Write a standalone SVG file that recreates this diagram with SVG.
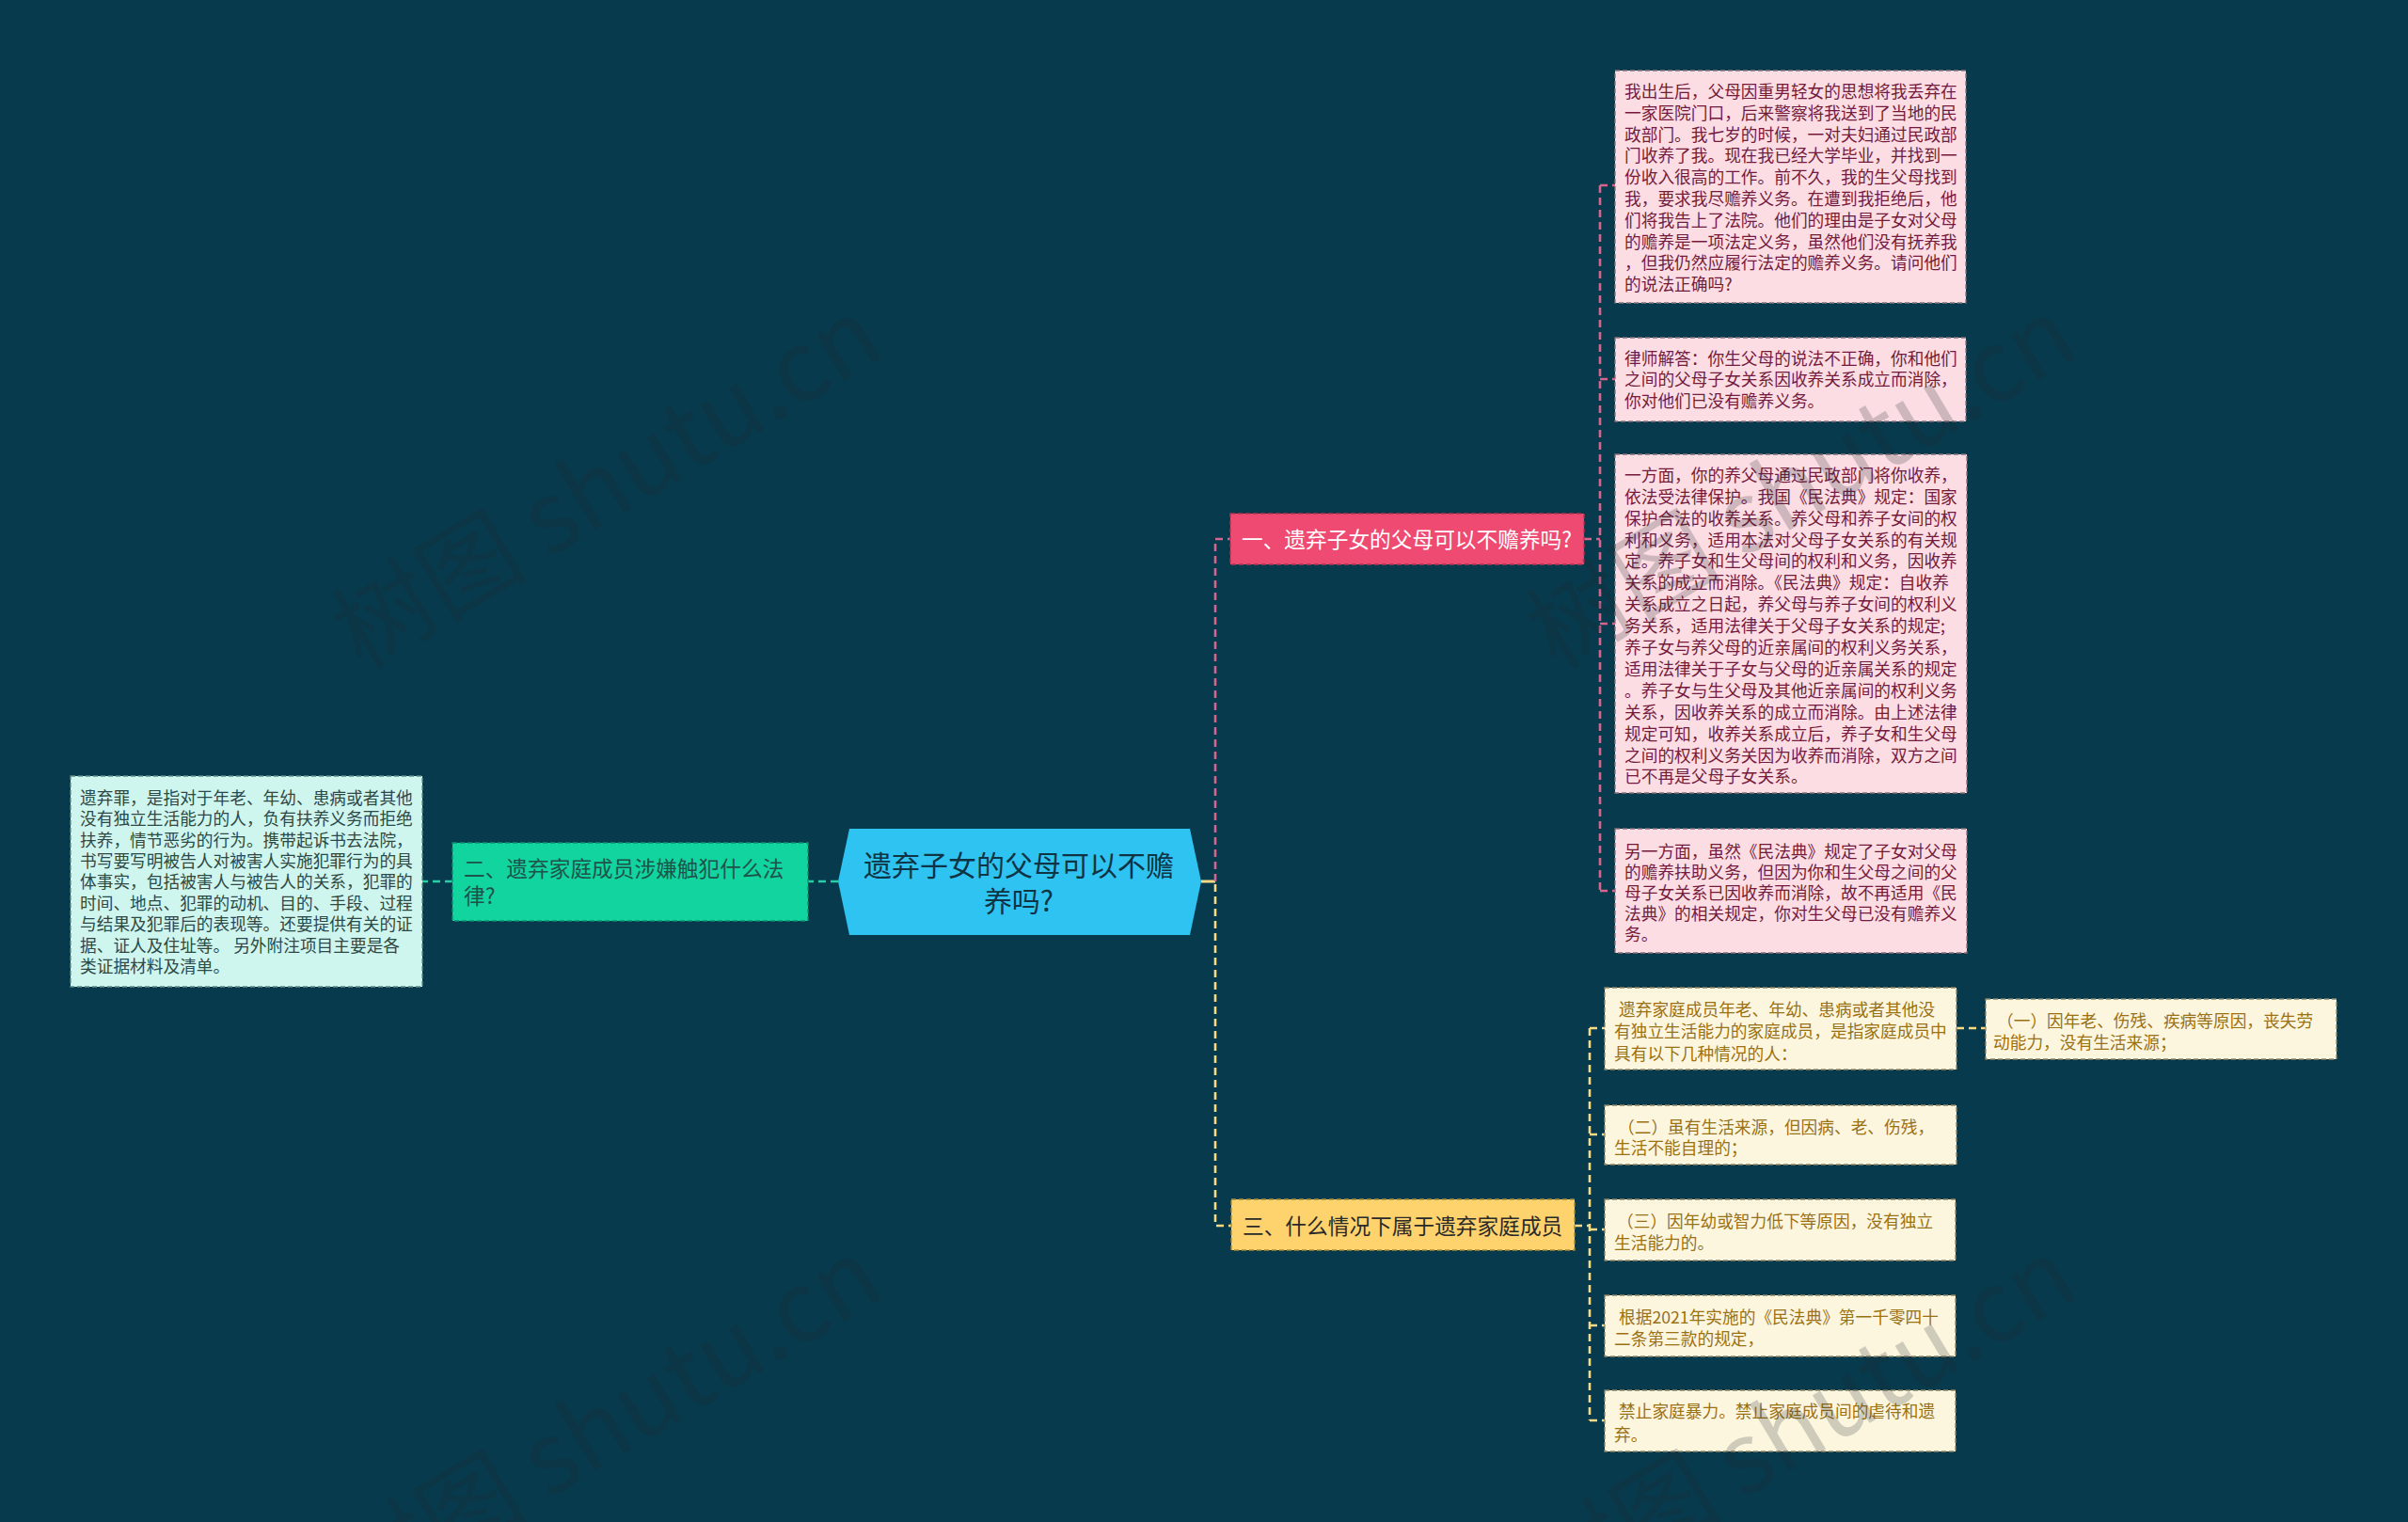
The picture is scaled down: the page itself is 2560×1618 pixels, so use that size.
<svg xmlns="http://www.w3.org/2000/svg" width="2560" height="1618" viewBox="0 0 2560 1618">
<defs>
<style>
text{font-family:"Noto Sans CJK SC","Noto Sans",sans-serif;}
.leafP rect{fill:#fbdde3;stroke:#8c7078;stroke-width:1.3;stroke-dasharray:5 3;}
.leafP text{fill:#741b3d;font-size:17.7px;}
.leafY rect{fill:#fdf6df;stroke:#8d8567;stroke-width:1.3;stroke-dasharray:5 3;}
.leafY text{fill:#9a7113;font-size:17.7px;}
.leafT rect{fill:#cff6ee;stroke:#5d8c86;stroke-width:1.3;stroke-dasharray:5 3;}
.leafT text{fill:#2d4846;font-size:17.7px;}
.br text{font-size:22.7px;}
.c{fill:none;stroke-width:2.6;stroke-dasharray:8 5;}
.solid{fill:none;stroke-width:3;}
.cp{stroke:#d8638c;}
.cy{stroke:#f7da82;}
.ct{stroke:#27cfa7;}
.wm{font-family:"Noto Sans CJK SC","Noto Sans",sans-serif;font-size:104px;fill:#1c262c;opacity:0.2;}
</style>
</defs>
<rect x="0" y="0" width="2560" height="1618" fill="#083a4d"/>

<g id="connectors">
<path class="solid cy" d="M1277,937 H1292"/>
<path class="c cy" d="M1292,940 V1303 H1309"/>
<path class="c cp" d="M1292,937 V573 H1308"/>
<path class="c ct" d="M891,937 H859"/>
<path class="c ct" d="M481,937 H449"/>
<path class="c cp" d="M1684,573 H1701"/>
<path class="c cp" d="M1701,197 V947"/>
<path class="c cp" d="M1701,197 H1717 M1701,403 H1717 M1701,663 H1717 M1701,947 H1717"/>
<path class="c cy" d="M1674,1303 H1690"/>
<path class="c cy" d="M1690,1093 V1510"/>
<path class="c cy" d="M1690,1093 H1706 M1690,1206 H1706 M1690,1307 H1706 M1690,1409 H1706 M1690,1510 H1706"/>
<path class="c cy" d="M2080,1093 H2111"/>
</g>

<g id="root">
<polygon points="903,881 1265,881 1277,937 1265,994 903,994 891,937" fill="#2fc3f1"/>
<text x="1083" y="931.4" text-anchor="middle" font-size="30" fill="#0f3444">遗弃子女的父母可以不赡</text>
<text x="1083" y="969.4" text-anchor="middle" font-size="30" fill="#0f3444">养吗?</text>
</g>

<g id="branch1" class="br">
<rect x="1308" y="546" width="376" height="54" fill="#ef4a72" stroke="#b8324f" stroke-width="1.3" stroke-dasharray="5 3"/>
<text x="1320" y="581.6" fill="#ffffff">一、遗弃子女的父母可以不赡养吗?</text>
</g>

<g id="branch2" class="br">
<rect x="481" y="896" width="378" height="83" fill="#12d49f" stroke="#0b8f6e" stroke-width="1.3" stroke-dasharray="5 3"/>
<text x="493" y="931.6" fill="#1e534b">二、遗弃家庭成员涉嫌触犯什么法</text>
<text x="493" y="960.6" fill="#1e534b">律?</text>
</g>

<g id="branch3" class="br">
<rect x="1309" y="1275" width="365" height="54" fill="#fed26c" stroke="#a68a3a" stroke-width="1.3" stroke-dasharray="5 3"/>
<text x="1321" y="1311.6" fill="#2a2a2a">三、什么情况下属于遗弃家庭成员</text>
</g>

<g id="p1" class="leafP">
<rect x="1717" y="75" width="373" height="247"/>
<text x="1727" y="104">我出生后，父母因重男轻女的思想将我丢弃在</text>
<text x="1727" y="126.8">一家医院门口，后来警察将我送到了当地的民</text>
<text x="1727" y="149.6">政部门。我七岁的时候，一对夫妇通过民政部</text>
<text x="1727" y="172.4">门收养了我。现在我已经大学毕业，并找到一</text>
<text x="1727" y="195.2">份收入很高的工作。前不久，我的生父母找到</text>
<text x="1727" y="218">我，要求我尽赡养义务。在遭到我拒绝后，他</text>
<text x="1727" y="240.8">们将我告上了法院。他们的理由是子女对父母</text>
<text x="1727" y="263.6">的赡养是一项法定义务，虽然他们没有抚养我</text>
<text x="1727" y="286.4">，但我仍然应履行法定的赡养义务。请问他们</text>
<text x="1727" y="309.2">的说法正确吗?</text>
</g>

<g id="p2" class="leafP">
<rect x="1717" y="359" width="373" height="89"/>
<text x="1727" y="387.5">律师解答：你生父母的说法不正确，你和他们</text>
<text x="1727" y="410.3">之间的父母子女关系因收养关系成立而消除，</text>
<text x="1727" y="433.1">你对他们已没有赡养义务。</text>
</g>

<g id="p3" class="leafP">
<rect x="1717" y="483" width="374" height="360"/>
<text x="1727" y="511.8">一方面，你的养父母通过民政部门将你收养，</text>
<text x="1727" y="534.7">依法受法律保护。我国《民法典》规定：国家</text>
<text x="1727" y="557.6">保护合法的收养关系。养父母和养子女间的权</text>
<text x="1727" y="580.5">利和义务，适用本法对父母子女关系的有关规</text>
<text x="1727" y="603.4">定。养子女和生父母间的权利和义务，因收养</text>
<text x="1727" y="626.3">关系的成立而消除。《民法典》规定：自收养</text>
<text x="1727" y="649.2">关系成立之日起，养父母与养子女间的权利义</text>
<text x="1727" y="672.1">务关系，适用法律关于父母子女关系的规定;</text>
<text x="1727" y="695">养子女与养父母的近亲属间的权利义务关系，</text>
<text x="1727" y="717.9">适用法律关于子女与父母的近亲属关系的规定</text>
<text x="1727" y="740.8">。养子女与生父母及其他近亲属间的权利义务</text>
<text x="1727" y="763.7">关系，因收养关系的成立而消除。由上述法律</text>
<text x="1727" y="786.6">规定可知，收养关系成立后，养子女和生父母</text>
<text x="1727" y="809.5">之间的权利义务关因为收养而消除，双方之间</text>
<text x="1727" y="832.4">已不再是父母子女关系。</text>
</g>

<g id="p4" class="leafP">
<rect x="1717" y="881" width="374" height="132"/>
<text x="1727" y="911.5">另一方面，虽然《民法典》规定了子女对父母</text>
<text x="1727" y="933.5">的赡养扶助义务，但因为你和生父母之间的父</text>
<text x="1727" y="955.5">母子女关系已因收养而消除，故不再适用《民</text>
<text x="1727" y="977.5">法典》的相关规定，你对生父母已没有赡养义</text>
<text x="1727" y="999.5">务。</text>
</g>

<g id="t1" class="leafT">
<rect x="75" y="825" width="374" height="224"/>
<text x="85" y="854.7">遗弃罪，是指对于年老、年幼、患病或者其他</text>
<text x="85" y="877.1">没有独立生活能力的人，负有扶养义务而拒绝</text>
<text x="85" y="899.5">扶养，情节恶劣的行为。携带起诉书去法院，</text>
<text x="85" y="921.9">书写要写明被告人对被害人实施犯罪行为的具</text>
<text x="85" y="944.3">体事实，包括被害人与被告人的关系，犯罪的</text>
<text x="85" y="966.7">时间、地点、犯罪的动机、目的、手段、过程</text>
<text x="85" y="989.1">与结果及犯罪后的表现等。还要提供有关的证</text>
<text x="85" y="1011.5">据、证人及住址等。 另外附注项目主要是各</text>
<text x="85" y="1033.9">类证据材料及清单。</text>
</g>

<g id="y1" class="leafY">
<rect x="1706" y="1050" width="374" height="87"/>
<text x="1721" y="1080">遗弃家庭成员年老、年幼、患病或者其他没</text>
<text x="1716" y="1103.4">有独立生活能力的家庭成员，是指家庭成员中</text>
<text x="1716" y="1126.8">具有以下几种情况的人：</text>
</g>

<g id="y1b" class="leafY">
<rect x="2111" y="1062" width="373" height="64"/>
<text x="2123" y="1091.7">（一）因年老、伤残、疾病等原因，丧失劳</text>
<text x="2119" y="1114.7">动能力，没有生活来源；</text>
</g>

<g id="y2" class="leafY">
<rect x="1706" y="1175" width="374" height="63"/>
<text x="1720" y="1204.7">（二）虽有生活来源，但因病、老、伤残，</text>
<text x="1716" y="1226.7">生活不能自理的；</text>
</g>

<g id="y3" class="leafY">
<rect x="1706" y="1275" width="373" height="65"/>
<text x="1719" y="1305">（三）因年幼或智力低下等原因，没有独立</text>
<text x="1716" y="1327.7">生活能力的。</text>
</g>

<g id="y4" class="leafY">
<rect x="1706" y="1377" width="373" height="65"/>
<text x="1721" y="1406.7">根据2021年实施的《民法典》第一千零四十</text>
<text x="1716" y="1429.7">二条第三款的规定，</text>
</g>

<g id="y5" class="leafY">
<rect x="1706" y="1478" width="373" height="65"/>
<text x="1721" y="1507.4">禁止家庭暴力。禁止家庭成员间的虐待和遗</text>
<text x="1716" y="1531.7">弃。</text>
</g>

<g id="watermarks">
<text class="wm" x="646" y="550" text-anchor="middle" transform="rotate(-31 646 515)">树图 shutu.cn</text>
<text class="wm" x="646" y="1550" text-anchor="middle" transform="rotate(-31 646 1515)">树图 shutu.cn</text>
<text class="wm" x="1916" y="550" text-anchor="middle" transform="rotate(-31 1916 515)">树图 shutu.cn</text>
<text class="wm" x="1916" y="1550" text-anchor="middle" transform="rotate(-31 1916 1515)">树图 shutu.cn</text>
</g>
</svg>
